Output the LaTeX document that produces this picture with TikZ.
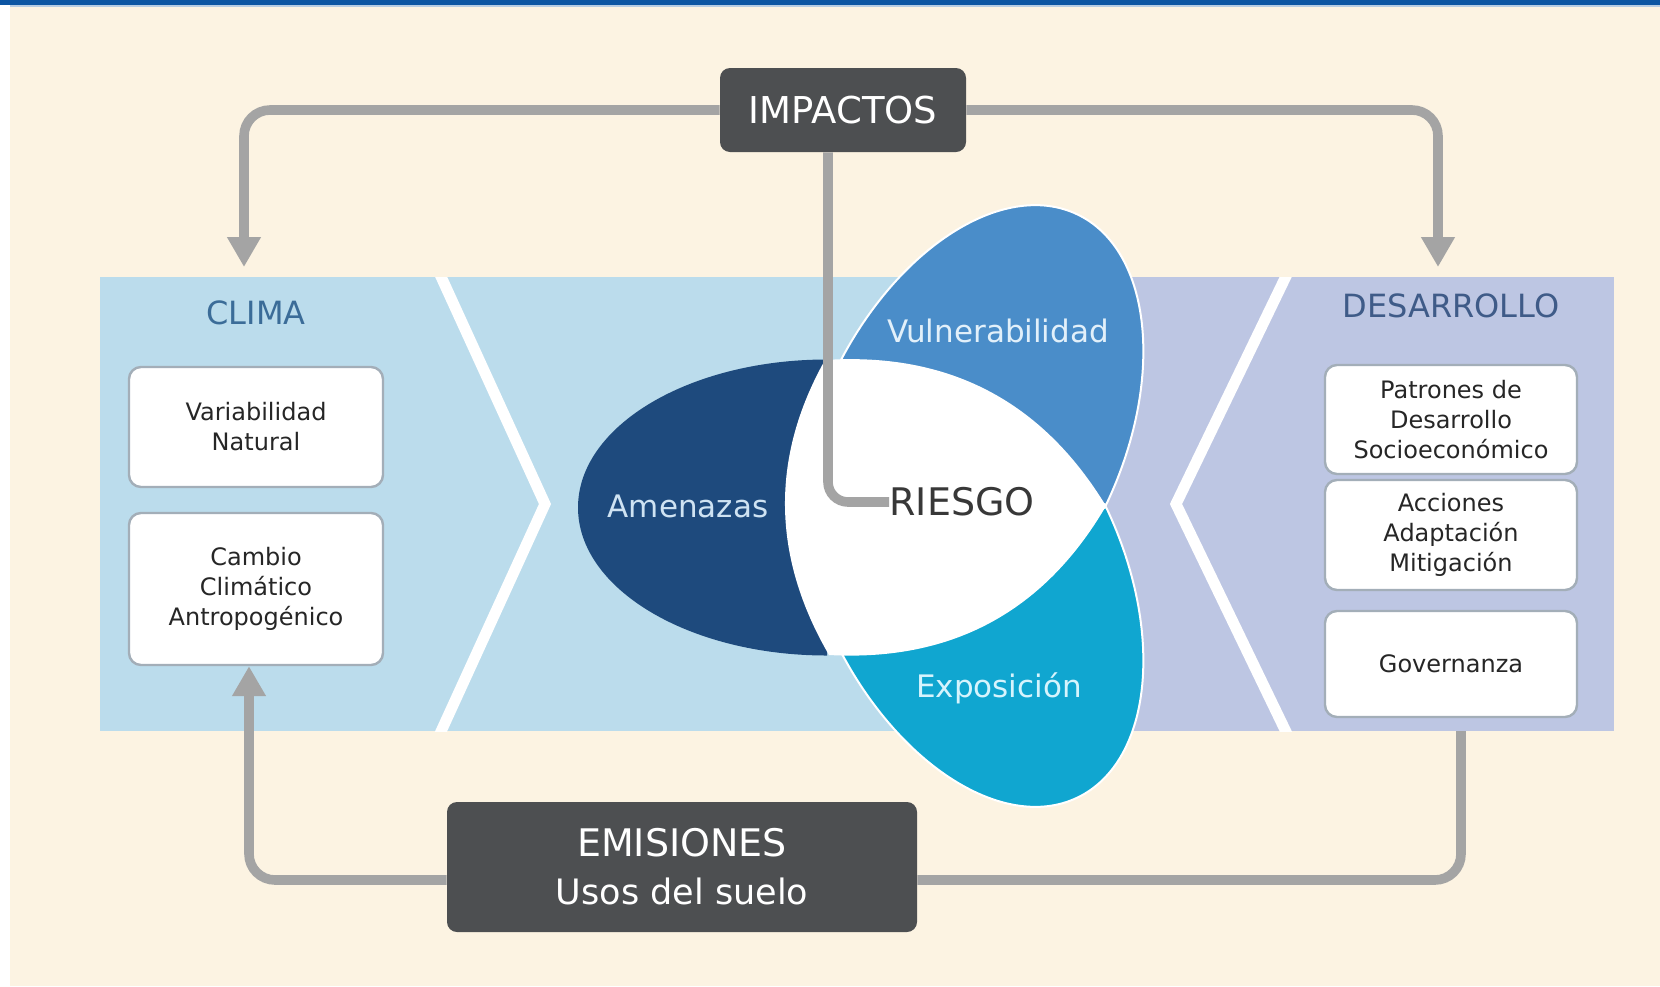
\documentclass[tikz,border=0pt]{standalone}
\usepackage{fontspec}
\setmainfont{DejaVu Sans}
\usetikzlibrary{arrows.meta,calc}
\definecolor{cream}{HTML}{FCF3E2}
\definecolor{topblue}{HTML}{0C55A2}
\definecolor{bandblue}{HTML}{BBDCEC}
\definecolor{bandlav}{HTML}{BDC6E3}
\definecolor{darkfill}{HTML}{4D4F51}
\definecolor{arrgray}{HTML}{A4A4A4}
\definecolor{amen}{HTML}{1E4A7D}
\definecolor{vuln}{HTML}{4A8DC9}
\definecolor{expo}{HTML}{10A6D0}
\definecolor{climatxt}{HTML}{3B6C98}
\definecolor{destxt}{HTML}{3F5B88}
\definecolor{boxedge}{HTML}{A3AEB8}
\definecolor{boxtxt}{HTML}{262626}
\definecolor{amenlbl}{HTML}{CFE3F3}
\definecolor{vulnlbl}{HTML}{E2F0FA}
\definecolor{expolbl}{HTML}{D6F4FD}
\begin{document}
\begin{tikzpicture}[x=0.5pt,y=-0.5pt,
  whitebox/.style={draw=boxedge, line width=1.2pt, fill=white, rounded corners=6pt, align=center,
    font=\fontsize{12}{15}\selectfont, text=boxtxt, inner sep=0pt},
  darkbox/.style={fill=darkfill, rounded corners=5pt, text=white, align=center, inner sep=0pt},
  flow/.style={draw=arrgray, line width=4.8pt, rounded corners=13pt},
  tipped/.style={-{Triangle[length=15pt,width=16pt]}},
  sectitle/.style={font=\fontsize{16}{19}\selectfont},
  petallabel/.style={font=\fontsize{15.5}{18}\selectfont, inner sep=0pt}
]
% background
\fill[cream] (0,0) rectangle (1660,986);
\useasboundingbox (0,0) rectangle (1660,986);
\fill[white] (0,5) rectangle (10,986);
\fill[topblue] (0,0) rectangle (1660,5);
\fill[topblue!30] (10,5) rectangle (1660,7);

% band
\fill[bandblue] (100,277) rectangle (1100,731);
\fill[bandlav] (1100,277) rectangle (1614,731);
\begin{scope}
  \clip (100,277) rectangle (1614,731);
  \draw[white, line width=5.5pt] (438,270) -- (545,504) -- (438,738);
  \draw[white, line width=5.5pt] (1289,270) -- (1176,504) -- (1289,738);
\end{scope}

% section titles
\node[sectitle, text=climatxt] (clima) at (256,313) {CLIMA};
\node[sectitle, text=destxt] (desarrollo) at (1451,306) {DESARROLLO};

% climate boxes
\node[whitebox, minimum width=127pt, minimum height=60pt] (variab) at (256,427) {Variabilidad\\Natural};
\node[whitebox, minimum width=127pt, minimum height=76pt] (cambio) at (256,589) {Cambio\\Climático\\Antropogénico};

% development boxes
\node[whitebox, minimum width=126pt, minimum height=54.5pt] (patrones) at (1451,419.5) {Patrones de\\Desarrollo\\Socioeconómico};
\node[whitebox, minimum width=126pt, minimum height=55pt] (acciones) at (1451,535) {Acciones\\Adaptación\\Mitigación};
\node[whitebox, minimum width=126pt, minimum height=53pt] (gobernanza) at (1451,664) {Governanza};

% petals
\coordinate (pA) at (825,360);
\coordinate (pB) at (829,655);
\coordinate (pC) at (1106,506);
\begin{scope}[shift={(827,507.5)}, rotate=180]
  \fill[amen] (0,-148) arc[start angle=-90, end angle=90, x radius=249, y radius=148] -- cycle;
\end{scope}
\begin{scope}[shift={(969.7,440)}, rotate=64.5]
  \filldraw[fill=vuln, draw=white, line width=1pt] (0,-151) arc[start angle=-90, end angle=90, x radius=250, y radius=151] -- cycle;
\end{scope}
\begin{scope}[shift={(969.7,572)}, rotate=-64.5]
  \filldraw[fill=expo, draw=white, line width=1pt] (0,-151) arc[start angle=-90, end angle=90, x radius=250, y radius=151] -- cycle;
\end{scope}
\fill[white] (pA) .. controls (770,458) and (772,557) .. (pB)
  .. controls (951.6,661.7) and (1044,612) .. (pC)
  .. controls (1041.8,400.5) and (948.2,351.9) .. (pA) -- cycle;

\node[petallabel, text=amenlbl] (amenazas) at (688,506) {Amenazas};
\node[petallabel, text=vulnlbl] (vulnerabilidad) at (998,331) {Vulnerabilidad};
\node[petallabel, text=expolbl] (exposicion) at (999,688) {Exposición};
\node[anchor=west, font=\fontsize{19}{22}\selectfont, text=black!78, inner sep=0pt] (riesgo) at (889,502) {RIESGO};

% dark boxes
\node[darkbox, minimum width=123pt, minimum height=42pt, font=\fontsize{18.5}{22}\selectfont] (impactos) at (843,110) {IMPACTOS};
\node[darkbox, minimum width=235pt, minimum height=65pt, font=\fontsize{18}{24}\selectfont] (emisiones) at (682,867)
  {{\fontsize{19}{24}\selectfont EMISIONES}\\{\fontsize{17.5}{24}\selectfont Usos del suelo}};

% connector end points
\coordinate (climaIn) at (244,267);
\coordinate (desIn) at (1438,267);
\coordinate (desOut) at (1461,731);

% flows
\draw[flow, tipped] (impactos.west) -| (climaIn);
\draw[flow, tipped] (impactos.east) -| (desIn);
\draw[flow, rounded corners=10pt] ($(impactos.south)+(-15,0)$) |- (riesgo.west);
\draw[flow] (desOut) |- ($(emisiones.east)+(0,13)$);
\draw[flow, tipped] ($(emisiones.west)+(0,13)$) -| ($(cambio.south)+(-7,0)$);
\end{tikzpicture}
\end{document}
